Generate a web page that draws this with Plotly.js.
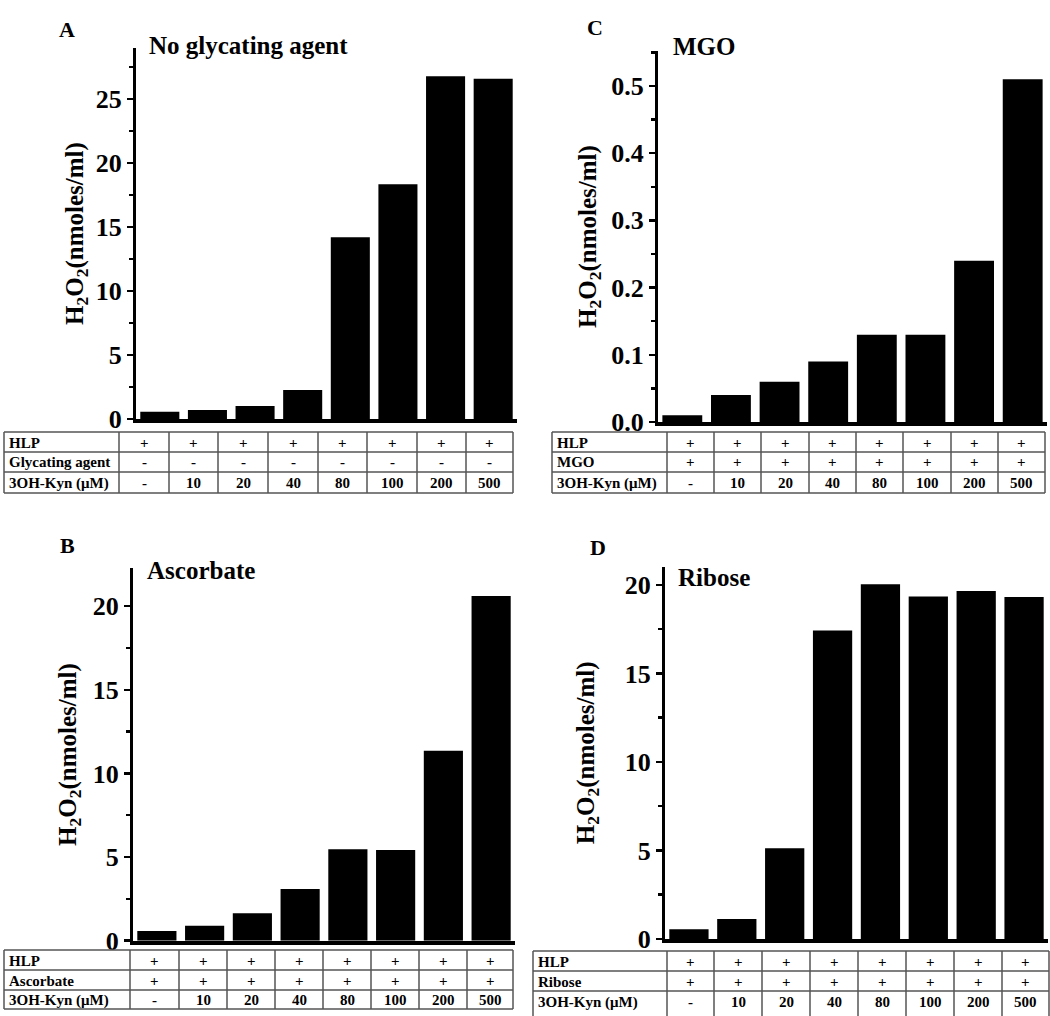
<!DOCTYPE html>
<html>
<head>
<meta charset="utf-8">
<script src="https://cdn.plot.ly/plotly-3.0.1.min.js"></script>
<style>html,body{margin:0;padding:0;background:#fff;}#chart{width:1050px;height:1016px;}</style>
</head>
<body>
<div id="chart"></div>
<script>
// ---- data ----
const kynDoses = ['-', '10', '20', '40', '80', '100', '200', '500'];
const valuesA = [0.57, 0.70, 1.02, 2.26, 14.2, 18.35, 26.8, 26.6];   // No glycating agent
const valuesC = [0.01, 0.04, 0.06, 0.09, 0.13, 0.13, 0.24, 0.51];    // MGO
const valuesB = [0.58, 0.90, 1.64, 3.09, 5.46, 5.42, 11.36, 20.6];   // Ascorbate
const valuesD = [0.55, 1.13, 5.12, 17.42, 20.04, 19.34, 19.66, 19.32]; // Ribose
const hlpRow = ['+', '+', '+', '+', '+', '+', '+', '+'];
const noAgentRow = ['-', '-', '-', '-', '-', '-', '-', '-'];
const withAgentRow = ['+', '+', '+', '+', '+', '+', '+', '+'];
const panelTitles = ['No glycating agent', 'MGO', 'Ascorbate', 'Ribose'];
const panelLetters = ['A', 'C', 'B', 'D'];
const agentLabels = ['Glycating agent', 'MGO', 'Ascorbate', 'Ribose'];
const rowLabelHLP = 'HLP';
const rowLabelKyn = '3OH-Kyn (\u03bcM)';
const yTitle = 'H<sub>2</sub>O<sub>2</sub>(nmoles/ml)';

// ---- geometry (pixels) ----
const W = 1050, H = 1016;
const px = x => x / W;
const py = y => 1 - y / H;
const FONT = 'Liberation Serif, Times New Roman, serif';

const panels = [
  {vals: valuesA, agentRow: noAgentRow, axX: [136, 517], axY: [419, 48], yMax: 29, dtick: 5, minor: 2.5, standoff: 6,
   letter: [67, 30], title: [147, 45],
   table: {left: 4, cols: [119, 169, 218, 268, 318, 367, 417, 466, 513], rows: [432, 452, 472, 493]}},
  {vals: valuesC, agentRow: withAgentRow, axX: [658, 1047], axY: [422, 51], yMax: 0.552, dtick: 0.1, minor: 0.05, standoff: 8, fmt: '.1f',
   letter: [595, 28], title: [671, 46],
   table: {left: 552, cols: [667, 714, 761, 809, 856, 903, 951, 998, 1045], rows: [432, 452, 472, 493]}},
  {vals: valuesB, agentRow: withAgentRow, axX: [133, 515], axY: [940.7, 568.3], yMax: 22.26, dtick: 5, minor: 2.5, standoff: 10,
   letter: [67, 545], title: [145, 570],
   table: {left: 4, cols: [130, 179, 227, 275, 323, 371, 419, 467, 513], rows: [950, 970, 990, 1009]}},
  {vals: valuesD, agentRow: withAgentRow, axX: [665, 1048], axY: [939, 566.7], yMax: 21.03, dtick: 5, minor: 2.5, standoff: 24,
   letter: [598, 547], title: [676, 577],
   table: {left: 533, cols: [667, 714, 762, 810, 858, 906, 954, 1002, 1049], rows: [951, 971, 991, 1016]}}
];

const data = [];
const layout = {
  width: W, height: H,
  margin: {l: 0, r: 0, t: 0, b: 0},
  paper_bgcolor: '#fff', plot_bgcolor: 'rgba(0,0,0,0)',
  showlegend: false,
  bargap: 0.18,
  font: {family: FONT, color: '#000'},
  annotations: [],
  shapes: []
};

panels.forEach((p, i) => {
  const n = i + 1;
  const xa = 'x' + (n === 1 ? '' : n), ya = 'y' + (n === 1 ? '' : n);
  const xk = 'xaxis' + (n === 1 ? '' : n), yk = 'yaxis' + (n === 1 ? '' : n);
  data.push({
    type: 'bar', x: kynDoses, y: p.vals, xaxis: xa, yaxis: ya,
    marker: {color: '#000', line: {color: '#000', width: 0}},
    hoverinfo: 'y'
  });
  layout[xk] = {
    domain: [px(p.axX[0]), px(p.axX[1])], anchor: ya,
    type: 'category', range: [-0.5, 7.5],
    showline: true, linewidth: 4, linecolor: '#000',
    showticklabels: false, ticks: '', showgrid: false, zeroline: false, fixedrange: true
  };
  layout[yk] = {
    domain: [py(p.axY[0]), py(p.axY[1])], anchor: xa,
    range: [0, p.yMax], tick0: 0, dtick: p.dtick, tickformat: p.fmt || '',
    showline: true, linewidth: 3, linecolor: '#000',
    ticks: 'outside', ticklen: 6, tickwidth: 2.5, tickcolor: '#000',
    minor: {ticks: 'outside', ticklen: 4, tickwidth: 2.5, tickcolor: '#000', dtick: p.minor, tick0: 0, showgrid: false},
    tickfont: {family: FONT, size: 26, weight: 'bold', color: '#000'},
    showgrid: false, zeroline: false, fixedrange: true, automargin: false,
    title: {text: yTitle, font: {family: FONT, size: 25, weight: 'bold', color: '#000'}, standoff: p.standoff}
  };
  // panel letter and title
  layout.annotations.push({
    xref: 'paper', yref: 'paper', x: px(p.letter[0]), y: py(p.letter[1]),
    xanchor: 'center', yanchor: 'middle', showarrow: false,
    text: panelLetters[i], font: {family: FONT, size: 22, weight: 'bold', color: '#000'}
  });
  layout.annotations.push({
    xref: 'paper', yref: 'paper', x: px(p.title[0]), y: py(p.title[1]),
    xanchor: 'left', yanchor: 'middle', showarrow: false,
    text: panelTitles[i], font: {family: FONT, size: 25, weight: 'bold', color: '#000'}
  });
  // table
  const t = p.table;
  const right = t.cols[t.cols.length - 1];
  const lineStyle = {color: '#555', width: 1.5};
  t.rows.forEach(ry => {
    if (ry >= H) return;
    layout.shapes.push({type: 'line', xref: 'paper', yref: 'paper', x0: px(t.left), x1: px(right), y0: py(ry), y1: py(ry), line: lineStyle});
  });
  const yTop = t.rows[0], yBot = Math.min(t.rows[t.rows.length - 1], H);
  [t.left].concat(t.cols).forEach(cx => {
    layout.shapes.push({type: 'line', xref: 'paper', yref: 'paper', x0: px(cx), x1: px(cx), y0: py(yTop), y1: py(yBot), line: lineStyle});
  });
  const rowLabels = [rowLabelHLP, agentLabels[i], rowLabelKyn];
  const rowVals = [hlpRow, p.agentRow, kynDoses];
  for (let r = 0; r < 3; r++) {
    const yc = (t.rows[r] + Math.min(t.rows[r + 1], 1012)) / 2 + 0.5;
    layout.annotations.push({
      xref: 'paper', yref: 'paper', x: px(t.left + 3), y: py(yc), xanchor: 'left', yanchor: 'middle',
      showarrow: false, text: rowLabels[r], font: {family: FONT, size: 15, weight: 'bold', color: '#000'}
    });
    for (let c = 0; c < 8; c++) {
      const xc = (t.cols[c] + t.cols[c + 1]) / 2;
      layout.annotations.push({
        xref: 'paper', yref: 'paper', x: px(xc), y: py(yc), xanchor: 'center', yanchor: 'middle',
        showarrow: false, text: rowVals[r][c], font: {family: FONT, size: 15, weight: 'bold', color: '#000'}
      });
    }
  }
});

Plotly.newPlot('chart', data, layout, {displayModeBar: false, staticPlot: true});
</script>
</body>
</html>
